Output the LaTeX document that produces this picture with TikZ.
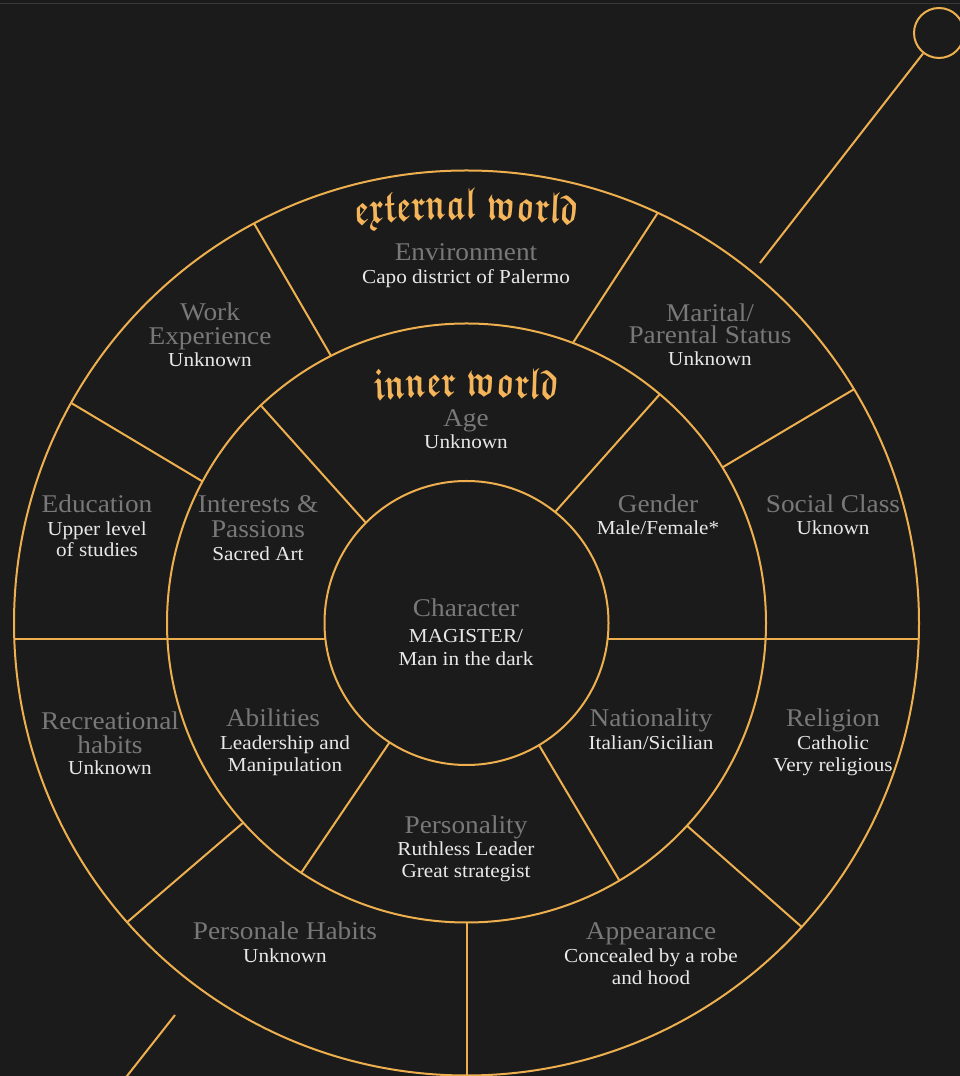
\documentclass[tikz,border=0pt]{standalone}
\usepackage{fontspec}
\setmainfont{Liberation Serif}[FakeStretch=1.07]
\usetikzlibrary{calc,decorations.text}

\definecolor{bg}{HTML}{1B1B1B}
\definecolor{gold}{HTML}{EEB04F}
\definecolor{titlegold}{HTML}{F5B55A}
\definecolor{labelgray}{HTML}{787878}
\definecolor{valuewhite}{HTML}{E8E8E8}
\definecolor{topline}{HTML}{383838}

\font\worldfrak=eufb10 at 45pt

\tikzset{
  ring/.style={draw=gold, line width=2pt},
  spoke/.style={draw=gold, line width=2pt},
  lbl/.style={text=labelgray, font=\fontsize{25.5}{26}\selectfont, anchor=base, inner sep=0pt},
  val/.style={text=valuewhite, font=\fontsize{19.8}{22}\selectfont, anchor=base, inner sep=0pt},
  worldtitle/.style={decorate,
      decoration={text along path, text align=center,
      text color=titlegold, text={|\worldfrak|#1}}},
}

\begin{document}
\begin{tikzpicture}[x=1pt,y=1pt]
\useasboundingbox (0,0) rectangle (960,1076);
\fill[bg] (0,0) rectangle (960,1076);
\clip (0,0) rectangle (960,1076);
\draw[topline, line width=1.5pt] (0,1072.5) -- (960,1072.5);

% centre of the three rings
\coordinate (C) at (466.5,453);
\draw[ring] (C) circle[radius=142];
\draw[ring] (C) circle[radius=299.5];
\draw[ring] (C) circle[radius=452.5];

% spokes of the outer ring
\draw[spoke] ($(C)+(116.9:299.5)$) -- ($(C)+(118.0:452.5)$);
\draw[spoke] ($(C)+(69.2:299.5)$)  -- ($(C)+(65.0:452.5)$);
\draw[spoke] ($(C)+(31.3:299.5)$)  -- ($(C)+(31.1:452.5)$);
\draw[spoke] ($(C)+(151.8:299.5)$) -- ($(C)+(150.9:452.5)$);
\draw[spoke] ($(C)+(221.8:299.5)$) -- ($(C)+(221.4:452.5)$);
\draw[spoke] ($(C)+(270:299.5)$)   -- ($(C)+(270:452.5)$);
\draw[spoke] ($(C)+(317.4:299.5)$) -- ($(C)+(317.8:452.5)$);

% spokes of the inner ring
\draw[spoke] ($(C)+(135.1:142)$) -- ($(C)+(133.4:299.5)$);
\draw[spoke] ($(C)+(51.4:142)$)  -- ($(C)+(49.8:299.5)$);
\draw[spoke] ($(C)+(237.2:142)$) -- ($(C)+(236.5:299.5)$);
\draw[spoke] ($(C)+(300.7:142)$) -- ($(C)+(300.7:299.5)$);

% horizontal divider, left and right of the core
\draw[spoke] (14.3,437) -- (325.4,437);
\draw[spoke] (607.6,437) -- (918.7,437);

% diagonal axis with its knob
\node[circle, draw=gold, line width=2pt, minimum size=50pt, inner sep=0pt] (knob) at (939,1043) {};
\coordinate (knobend) at (760,813);
\draw[spoke] (knob) -- (knobend);
\coordinate (tailtop) at (175,61);
\coordinate (tailend) at (116,-14);
\draw[spoke] (tailtop) -- (tailend);

% arched titles, squeezed to a narrow blackletter (466.5 / 0.7 = 666.4)
\begin{scope}[transform canvas={xscale=0.7}]
\path[worldtitle={external world}] (666.4,-1103) ++(96:1960) arc[start angle=96, end angle=84, radius=1960];
\path[worldtitle={inner world}] (666.4,-1280) ++(96:1960) arc[start angle=96, end angle=84, radius=1960];
\end{scope}

% core
\node[lbl] (char-a) at (466,459) {Character};
\node[val] (char-b) at (466,433) {MAGISTER/};
\node[val] (char-c) at (466,410) {Man in the dark};

% inner ring
\node[lbl] (age-a) at (466,649) {Age};
\node[val] (age-b) at (466,627) {Unknown};

\node[lbl] (int-a) at (258,563) {Interests \&};
\node[lbl] (int-b) at (258,538) {Passions};
\node[val] (int-c) at (258,515) {Sacred Art};

\node[lbl] (gen-a) at (658,563) {Gender};
\node[val] (gen-b) at (658,541) {Male/Female*};

\node[lbl] (abl-a) at (273,349) {Abilities};
\node[val] (abl-b) at (285,326) {Leadership and};
\node[val] (abl-c) at (285,304) {Manipulation};

\node[lbl] (nat-a) at (651,349) {Nationality};
\node[val] (nat-b) at (651,326) {Italian/Sicilian};

\node[lbl] (per-a) at (466,242) {Personality};
\node[val] (per-b) at (466,220) {Ruthless Leader};
\node[val] (per-c) at (466,198) {Great strategist};

% outer ring
\node[lbl] (env-a) at (466,815) {Environment};
\node[val] (env-b) at (466,792) {Capo district of Palermo};

\node[lbl] (wrk-a) at (210,755) {Work};
\node[lbl] (wrk-b) at (210,731) {Experience};
\node[val] (wrk-c) at (210,709) {Unknown};

\node[lbl] (mar-a) at (710,754) {Marital/};
\node[lbl] (mar-b) at (710,732) {Parental Status};
\node[val] (mar-c) at (710,710) {Unknown};

\node[lbl] (edu-a) at (97,563) {Education};
\node[val] (edu-b) at (97,540) {Upper level};
\node[val] (edu-c) at (97,519) {of studies};

\node[lbl] (soc-a) at (833,563) {Social Class};
\node[val] (soc-b) at (833,541) {Uknown};

\node[lbl] (rec-a) at (110,346) {Recreational};
\node[lbl] (rec-b) at (110,322) {habits};
\node[val] (rec-c) at (110,301) {Unknown};

\node[lbl] (rel-a) at (833,349) {Religion};
\node[val] (rel-b) at (833,326) {Catholic};
\node[val] (rel-c) at (833,304) {Very religious};

\node[lbl] (hab-a) at (285,136) {Personale Habits};
\node[val] (hab-b) at (285,113) {Unknown};

\node[lbl] (app-a) at (651,136) {Appearance};
\node[val] (app-b) at (651,113) {Concealed by a robe};
\node[val] (app-c) at (651,91) {and hood};
\end{tikzpicture}
\end{document}
